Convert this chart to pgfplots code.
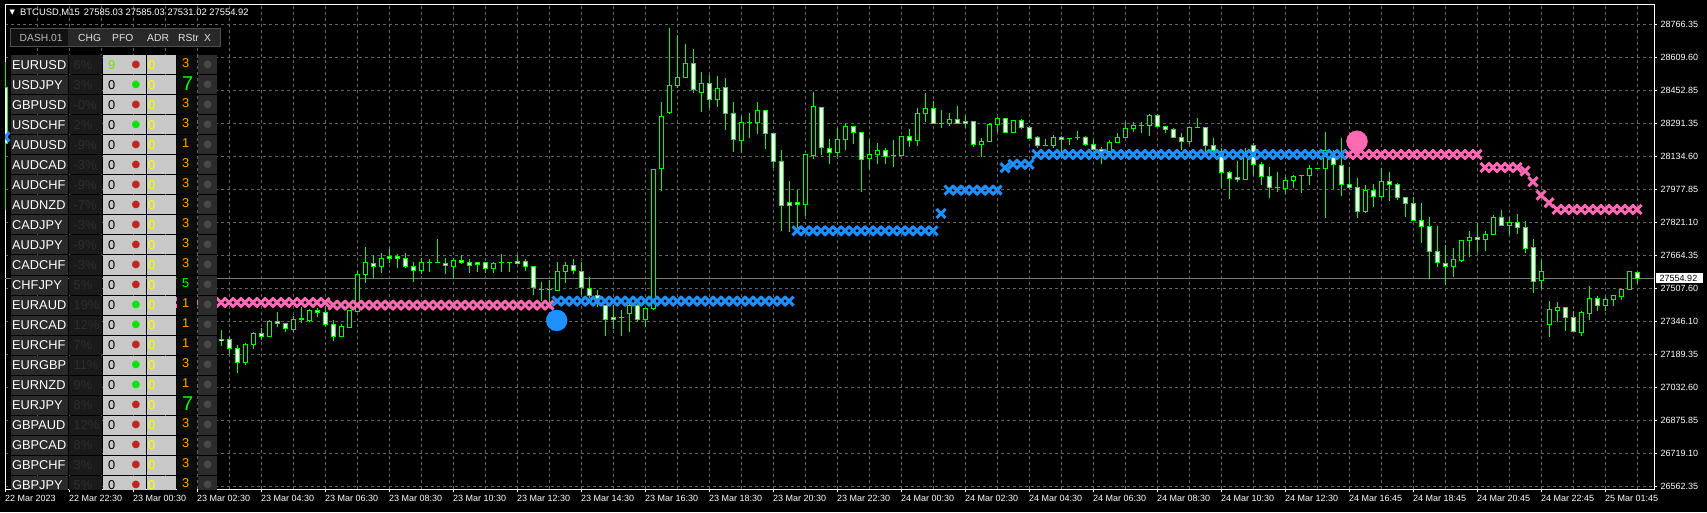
\documentclass[border=0pt]{standalone}
\usepackage{pgfplots}
\pgfplotsset{compat=1.18}
\usepackage{pgfplotstable}
\usepackage{fontspec}
\setmainfont{Liberation Sans}
\newfontfamily\dejavu{DejaVu Sans}
\definecolor{lime}{RGB}{0,255,0}
\definecolor{gridc}{RGB}{100,100,100}
\definecolor{mtblue}{RGB}{30,144,255}
\definecolor{mtpink}{RGB}{255,105,180}
\definecolor{bidc}{RGB}{120,120,120}
\definecolor{symbg}{RGB}{42,42,42}
\definecolor{pctbg}{RGB}{26,26,26}
\definecolor{pcttx}{RGB}{46,46,46}
\definecolor{lgbg}{RGB}{200,200,200}
\definecolor{rsbg}{RGB}{12,12,12}
\definecolor{xbg}{RGB}{44,44,44}
\definecolor{xdot}{RGB}{72,72,72}
\definecolor{reddot}{RGB}{195,35,35}
\definecolor{grndot}{RGB}{0,230,0}
\definecolor{orng}{RGB}{255,165,0}
\definecolor{tabbg}{RGB}{40,40,40}
\definecolor{tabbd}{RGB}{78,78,78}
\definecolor{tabdk}{RGB}{18,18,18}
\definecolor{tabtx}{RGB}{225,225,225}
\definecolor{dashtx}{RGB}{185,185,185}
\definecolor{pfogreen}{RGB}{110,230,0}
\definecolor{yel}{RGB}{255,255,0}

\pgfplotstableread{
i o h l c
0 28467 28587 27881 28200
27 27266 27309 27233 27257
28 27266 27277 27195 27222
29 27222 27238 27106 27155
30 27155 27249 27144 27241
31 27241 27300 27220 27292
32 27292 27317 27262 27279
33 27279 27357 27277 27351
34 27351 27395 27325 27341
35 27339 27343 27301 27316
36 27314 27374 27301 27360
37 27360 27417 27341 27362
38 27357 27409 27349 27403
39 27403 27412 27373 27393
40 27393 27424 27325 27336
41 27336 27357 27257 27277
42 27277 27338 27274 27324
43 27320 27405 27317 27400
44 27398 27589 27395 27575
45 27575 27703 27535 27632
46 27627 27667 27559 27614
47 27613 27675 27582 27651
48 27660 27694 27627 27651
49 27660 27671 27606 27651
50 27651 27675 27606 27613
51 27613 27632 27540 27594
52 27594 27651 27575 27632
53 27632 27646 27587 27632
54 27632 27741 27627 27631
55 27627 27651 27575 27617
56 27613 27651 27559 27641
57 27641 27667 27622 27632
58 27632 27646 27579 27617
59 27632 27632 27587 27622
60 27632 27632 27582 27603
61 27603 27632 27579 27627
62 27632 27670 27587 27632
63 27632 27635 27587 27632
64 27636 27667 27622 27627
65 27636 27646 27592 27613
66 27613 27616 27476 27511
67 27501 27540 27449 27501
68 27501 27548 27444 27501
69 27500 27632 27500 27589
70 27589 27632 27535 27619
71 27619 27646 27576 27594
72 27589 27635 27476 27513
73 27508 27563 27460 27473
74 27473 27500 27420 27460
75 27424 27428 27282 27360
76 27368 27428 27314 27360
77 27369 27404 27282 27369
78 27387 27436 27301 27424
79 27424 27431 27346 27360
80 27360 27416 27325 27412
81 27412 28075 27403 28075
82 28080 28394 27973 28328
83 28345 28747 28339 28475
84 28475 28715 28464 28513
85 28513 28672 28509 28580
86 28580 28648 28440 28456
87 28442 28537 28350 28485
88 28485 28523 28369 28409
89 28409 28518 28374 28461
90 28466 28509 28261 28342
91 28342 28394 28156 28218
92 28213 28328 28151 28299
93 28299 28342 28226 28299
94 28299 28394 28242 28356
95 28356 28356 28170 28246
96 28246 28246 28083 28113
97 28113 28167 27783 27903
98 27918 28019 27775 27903
99 27918 27975 27794 27908
100 27908 28150 27853 28146
101 28142 28442 28123 28375
102 28370 28370 28142 28180
103 28175 28218 28099 28156
104 28156 28270 28135 28218
105 28218 28294 28165 28280
106 28280 28280 28194 28251
107 28251 28254 27968 28123
108 28127 28219 28075 28146
109 28146 28199 28102 28165
110 28165 28175 28102 28137
111 28142 28213 28088 28142
112 28142 28232 28137 28232
113 28231 28266 28183 28213
114 28213 28366 28188 28342
115 28342 28437 28302 28366
116 28366 28401 28294 28294
117 28294 28358 28274 28294
118 28294 28342 28283 28313
119 28313 28375 28290 28294
120 28304 28332 28270 28294
121 28304 28307 28183 28193
122 28193 28223 28135 28208
123 28207 28294 28204 28290
124 28290 28323 28254 28318
125 28318 28318 28251 28251
126 28251 28309 28251 28309
127 28309 28313 28266 28275
128 28275 28280 28218 28223
129 28228 28235 28175 28188
130 28188 28218 28188 28188
131 28188 28237 28175 28228
132 28228 28232 28159 28218
133 28223 28223 28191 28223
134 28228 28256 28213 28228
135 28228 28235 28188 28194
136 28194 28218 28166 28170
137 28170 28180 28102 28159
138 28159 28213 28137 28204
139 28204 28247 28202 28228
140 28228 28299 28223 28270
141 28270 28299 28251 28285
142 28285 28299 28247 28285
143 28285 28337 28235 28332
144 28332 28337 28280 28280
145 28280 28280 28250 28266
146 28266 28270 28223 28228
147 28228 28247 28166 28207
148 28207 28278 28194 28275
149 28275 28318 28270 28275
150 28275 28278 28159 28188
151 28188 28223 28159 28166
152 28159 28175 27984 28061
153 28061 28067 27935 28032
154 28037 28115 28016 28027
155 28027 28178 28024 28135
156 28189 28199 28048 28099
157 28099 28108 28002 28042
158 28042 28085 27940 27989
159 27988 28061 27968 27988
160 27983 28037 27959 28023
161 28023 28046 27988 28042
162 28045 28045 27964 28045
163 28045 28094 28002 28080
164 28080 28080 28080 28080
165 28080 28253 27844 28165
166 28132 28165 27981 28099
167 28094 28223 27949 28003
168 28003 28085 27981 27989
169 27989 28032 27844 27875
170 27875 27999 27868 27975
171 27975 28003 27894 27946
172 27946 28083 27940 28018
173 28018 28061 27926 28003
174 28003 28008 27930 27941
175 27941 27945 27849 27913
176 27913 27941 27830 27832
177 27832 27913 27725 27803
178 27803 27846 27554 27684
179 27684 27805 27611 27632
180 27627 27714 27524 27613
181 27613 27698 27563 27646
182 27641 27738 27635 27736
183 27736 27779 27656 27751
184 27751 27818 27679 27741
185 27741 27779 27687 27765
186 27765 27856 27760 27846
187 27846 27879 27803 27808
188 27808 27846 27764 27822
189 27822 27860 27765 27798
190 27798 27827 27675 27698
191 27703 27741 27487 27541
192 27546 27641 27503 27589
193 27335 27447 27277 27408
194 27401 27443 27347 27417
195 27417 27417 27306 27370
196 27370 27401 27298 27301
197 27296 27398 27282 27393
198 27389 27519 27357 27460
199 27460 27471 27401 27425
200 27425 27465 27400 27457
201 27454 27474 27424 27474
202 27471 27506 27452 27503
203 27503 27589 27500 27589
204 27585.03 27585.03 27531.02 27554.92
}\candles

\pgfplotstableread{
i p
0 28230
69 27447
70 27447
71 27447
72 27447
73 27447
74 27447
75 27447
76 27447
77 27447
78 27447
79 27447
80 27447
81 27447
82 27447
83 27447
84 27447
85 27447
86 27447
87 27447
88 27447
89 27447
90 27447
91 27447
92 27447
93 27447
94 27447
95 27447
96 27447
97 27447
98 27447
99 27782
100 27782
101 27782
102 27782
103 27782
104 27782
105 27782
106 27782
107 27782
108 27782
109 27782
110 27782
111 27782
112 27782
113 27782
114 27782
115 27782
116 27782
117 27865
118 27976
119 27976
120 27976
121 27976
122 27976
123 27976
124 27976
125 28083
126 28099
127 28099
128 28099
129 28146
130 28146
131 28146
132 28146
133 28146
134 28146
135 28146
136 28146
137 28146
138 28146
139 28146
140 28146
141 28146
142 28146
143 28146
144 28146
145 28146
146 28146
147 28146
148 28146
149 28146
150 28146
151 28146
152 28146
153 28146
154 28146
155 28146
156 28146
157 28146
158 28146
159 28146
160 28146
161 28146
162 28146
163 28146
164 28146
165 28146
166 28146
167 28146
}\bluetab

\pgfplotstableread{
i p
20 27441
21 27441
22 27441
23 27441
24 27441
25 27441
26 27441
27 27441
28 27441
29 27441
30 27441
31 27441
32 27441
33 27441
34 27441
35 27441
36 27441
37 27441
38 27441
39 27441
40 27441
41 27428
42 27428
43 27428
44 27428
45 27428
46 27428
47 27428
48 27428
49 27428
50 27428
51 27428
52 27428
53 27428
54 27428
55 27428
56 27428
57 27428
58 27428
59 27428
60 27428
61 27428
62 27428
63 27428
64 27428
65 27428
66 27428
67 27428
68 27428
168 28146
169 28146
170 28146
171 28146
172 28146
173 28146
174 28146
175 28146
176 28146
177 28146
178 28146
179 28146
180 28146
181 28146
182 28146
183 28146
184 28146
185 28084
186 28084
187 28084
188 28084
189 28084
190 28067
191 28016
192 27952
193 27916
194 27884
195 27884
196 27884
197 27884
198 27884
199 27884
200 27884
201 27884
202 27884
203 27884
204 27884
}\pinktab

\newcommand\rowfont{\fontsize{12.8}{14}\selectfont}
\newcommand\dotfont{\dejavu\fontsize{10}{12}\selectfont}
\newcommand\tabfont{\fontsize{10.3}{12}\selectfont}

% k, symbol, pct, pfo text, dot colour, rstr text
\newcommand\drow[6]{%
  \pgfmathsetmacro\yt{55.5+20*#1}%
  \pgfmathsetmacro\yb{74.5+20*#1}%
  \pgfmathsetmacro\yc{65+20*#1}%
  \fill[symbg] (10.7,\yt) rectangle (68.3,\yb);
  \fill[pctbg] (69.3,\yt) rectangle (101.7,\yb);
  \fill[lgbg] (103.3,\yt) rectangle (145.7,\yb);
  \fill[lgbg] (146.7,\yt) rectangle (175.7,\yb);
  \fill[rsbg] (176.7,\yt) rectangle (196.7,\yb);
  \fill[xbg] (198,\yt) rectangle (217.3,\yb);
  \node[anchor=west,inner sep=0,text=white,font=\rowfont] at (12,\yc) {#2};
  \node[anchor=west,inner sep=0,text=pcttx,font=\rowfont] at (73.5,\yc) {#3};
  \node[anchor=west,inner sep=0,font=\rowfont] at (108,\yc) {#4};
  \node[inner sep=0,text=#5,font=\dotfont] at (136,\yc) {●};
  \node[anchor=west,inner sep=0,text=yel,font=\rowfont] at (148,\yc) {0};
  \node[anchor=west,inner sep=0,font=\rowfont] at (182,\yc-1.5) {#6};
  \node[inner sep=0,text=xdot,font=\dotfont] at (207.7,\yc) {●};
}

\begin{document}
\begin{tikzpicture}[x=1pt,y=1pt]
\useasboundingbox (0,0) rectangle (1707,512);
\fill[black] (0,0) rectangle (1707,512);
\begin{axis}[
  at={(5pt,23pt)}, anchor=south west,
  scale only axis, width=1649pt, height=484.7pt,
  xmin=0, xmax=206.125, ymin=26551.6, ymax=28861.7,
  axis background/.style={fill=black},
  axis line style={white, line width=1pt},
  xtick={0,8,...,200},
  xticklabels={22 Mar 2023, 22 Mar 22:30, 23 Mar 00:30, 23 Mar 02:30, 23 Mar 04:30, 23 Mar 06:30, 23 Mar 08:30, 23 Mar 10:30, 23 Mar 12:30, 23 Mar 14:30, 23 Mar 16:30, 23 Mar 18:30, 23 Mar 20:30, 23 Mar 22:30, 24 Mar 00:30, 24 Mar 02:30, 24 Mar 04:30, 24 Mar 06:30, 24 Mar 08:30, 24 Mar 10:30, 24 Mar 12:30, 24 Mar 16:45, 24 Mar 18:45, 24 Mar 20:45, 24 Mar 22:45, 25 Mar 01:45},
  minor xtick={4,12,...,204},
  ytick={26562.35,26719.78,26877.21,27034.64,27192.06,27349.49,27506.92,27664.35,27821.78,27979.21,28136.64,28294.06,28451.49,28608.92,28766.35},
  yticklabels={26562.35,26719.10,26875.85,27032.60,27189.35,27346.10,27507.60,27664.35,27821.10,27977.85,28134.60,28291.35,28452.85,28609.60,28766.35},
  xtick pos=left, ytick pos=right,
  tick align=outside, major tick length=3pt, minor tick length=0pt,
  tick style={white, line width=1pt},
  grid=both,
  major grid style={gridc, line width=1pt, dash pattern=on 3pt off 3pt},
  minor grid style={gridc, line width=1pt, dash pattern=on 3pt off 3pt},
  ticklabel style={font=\fontsize{9}{10}\selectfont, text=white},
  yticklabel style={anchor=west},
  xticklabel style={anchor=north west, xshift=-3.5pt},
  clip marker paths=true,
]
% bid line
\addplot[bidc, line width=1pt, forget plot] coordinates {(0,27554.92) (206.125,27554.92)};
% wicks
\addplot[draw=none, mark=none, forget plot,
  error bars/.cd, y dir=minus, y explicit, error mark=none,
  error bar style={draw=lime, line width=1pt}]
  table[x=i, y=h, y error minus expr={\thisrow{h}-\thisrow{l}}] {\candles};
% body outlines
\addplot[draw=none, mark=none, forget plot,
  error bars/.cd, y dir=minus, y explicit, error mark=none,
  error bar style={draw=lime, line width=5pt}]
  table[x=i, y expr={max(\thisrow{o},\thisrow{c})+2.383}, y error minus expr={abs(\thisrow{o}-\thisrow{c})+4.766}] {\candles};
% bull inner (black)
\addplot[draw=none, mark=none, forget plot,
  error bars/.cd, y dir=minus, y explicit, error mark=none,
  error bar style={draw=black, line width=3pt}]
  table[x=i, y expr={\thisrow{c}>=\thisrow{o} ? max(\thisrow{o},\thisrow{c})-2.383 : nan}, y error minus expr={max(abs(\thisrow{o}-\thisrow{c})-4.766,0)}] {\candles};
% bear inner (white)
\addplot[draw=none, mark=none, forget plot,
  error bars/.cd, y dir=minus, y explicit, error mark=none,
  error bar style={draw=white, line width=3pt}]
  table[x=i, y expr={\thisrow{c}<\thisrow{o} ? max(\thisrow{o},\thisrow{c})-2.383 : nan}, y error minus expr={max(abs(\thisrow{o}-\thisrow{c})-4.766,0)}] {\candles};
% indicator crosses
\addplot[only marks, mark=x, mark size=6.4pt, mtpink, mark options={line width=3pt}] table[x=i, y=p] {\pinktab};
\addplot[only marks, mark=x, mark size=6.4pt, mtblue, mark options={line width=3pt}] table[x=i, y=p] {\bluetab};
% signal dots
\addplot[only marks, mark=*, mark size=10.5pt, mtblue, mark options={draw=mtblue, fill=mtblue}] coordinates {(68.96,27355)};
\addplot[only marks, mark=*, mark size=10.5pt, mtpink, mark options={draw=mtpink, fill=mtpink}] coordinates {(169.0,28209)};
\end{axis}

\begin{scope}[yshift=512pt, x=1pt, y=-1pt]
  % header
  \node[anchor=west, inner sep=0, text=white, font=\dejavu\fontsize{7}{8}\selectfont] at (9.3,12.7) {▼};
  \node[anchor=west, inner sep=0, text=white, font=\fontsize{9.4}{11}\selectfont] at (20,12.7) {BTCUSD,M15\, 27585.03 27585.03 27531.02 27554.92};
  % price label
  \fill[white] (1656,272.7) rectangle (1703,283.3);
  \node[anchor=west, inner sep=0, text=black, font=\fontsize{9}{10}\selectfont] at (1659.5,278) {27554.92};
  % tab bar
  \fill[tabbg] (10,28.3) rectangle (220,46.7);
  \draw[tabbd, line width=0.8pt] (10,28.3) rectangle (220,46.7);
  \fill[tabdk] (10.8,29.1) rectangle (68.3,45.9);
  \node[anchor=west, inner sep=0, text=dashtx, font=\tabfont] at (19.5,37.5) {DASH.01};
  \node[anchor=west, inner sep=0, text=tabtx, font=\tabfont] at (78,37.5) {CHG};
  \node[anchor=west, inner sep=0, text=tabtx, font=\tabfont] at (112,37.5) {PFO};
  \node[anchor=west, inner sep=0, text=tabtx, font=\tabfont] at (147,37.5) {ADR};
  \node[anchor=west, inner sep=0, text=tabtx, font=\tabfont] at (178,37.5) {RStr};
  \node[anchor=west, inner sep=0, text=tabtx, font=\tabfont] at (204,37.5) {X};
  \begin{scope}
  \clip (0,0) rectangle (1707,489);
  \drow{0}{EURUSD}{6\%}{\textcolor{pfogreen}{9}}{reddot}{\textcolor{orng}{3}}
  \drow{1}{USDJPY}{3\%}{\textcolor{black}{0}}{grndot}{\raisebox{-3pt}{\textcolor{lime}{\fontsize{20}{22}\selectfont 7}}}
  \drow{2}{GBPUSD}{-0\%}{\textcolor{black}{0}}{reddot}{\textcolor{orng}{3}}
  \drow{3}{USDCHF}{2\%}{\textcolor{black}{0}}{grndot}{\textcolor{orng}{3}}
  \drow{4}{AUDUSD}{-9\%}{\textcolor{black}{0}}{reddot}{\textcolor{orng}{1}}
  \drow{5}{AUDCAD}{-3\%}{\textcolor{black}{0}}{reddot}{\textcolor{orng}{3}}
  \drow{6}{AUDCHF}{-9\%}{\textcolor{black}{0}}{reddot}{\textcolor{orng}{3}}
  \drow{7}{AUDNZD}{-7\%}{\textcolor{black}{0}}{reddot}{\textcolor{orng}{3}}
  \drow{8}{CADJPY}{-3\%}{\textcolor{black}{0}}{reddot}{\textcolor{orng}{3}}
  \drow{9}{AUDJPY}{-9\%}{\textcolor{black}{0}}{reddot}{\textcolor{orng}{3}}
  \drow{10}{CADCHF}{-3\%}{\textcolor{black}{0}}{reddot}{\textcolor{orng}{3}}
  \drow{11}{CHFJPY}{5\%}{\textcolor{black}{0}}{reddot}{\textcolor{lime}{5}}
  \drow{12}{EURAUD}{19\%}{\textcolor{black}{0}}{grndot}{\textcolor{orng}{1}}
  \drow{13}{EURCAD}{12\%}{\textcolor{black}{0}}{grndot}{\textcolor{orng}{1}}
  \drow{14}{EURCHF}{7\%}{\textcolor{black}{0}}{reddot}{\textcolor{orng}{1}}
  \drow{15}{EURGBP}{11\%}{\textcolor{black}{0}}{grndot}{\textcolor{orng}{3}}
  \drow{16}{EURNZD}{9\%}{\textcolor{black}{0}}{grndot}{\textcolor{orng}{1}}
  \drow{17}{EURJPY}{8\%}{\textcolor{black}{0}}{reddot}{\raisebox{-3pt}{\textcolor{lime}{\fontsize{20}{22}\selectfont 7}}}
  \drow{18}{GBPAUD}{12\%}{\textcolor{black}{0}}{reddot}{\textcolor{orng}{3}}
  \drow{19}{GBPCAD}{8\%}{\textcolor{black}{0}}{reddot}{\textcolor{orng}{3}}
  \drow{20}{GBPCHF}{3\%}{\textcolor{black}{0}}{reddot}{\textcolor{orng}{3}}
  \drow{21}{GBPJPY}{5\%}{\textcolor{black}{0}}{reddot}{\textcolor{orng}{3}}
  \end{scope}
\end{scope}
\end{tikzpicture}
\end{document}
